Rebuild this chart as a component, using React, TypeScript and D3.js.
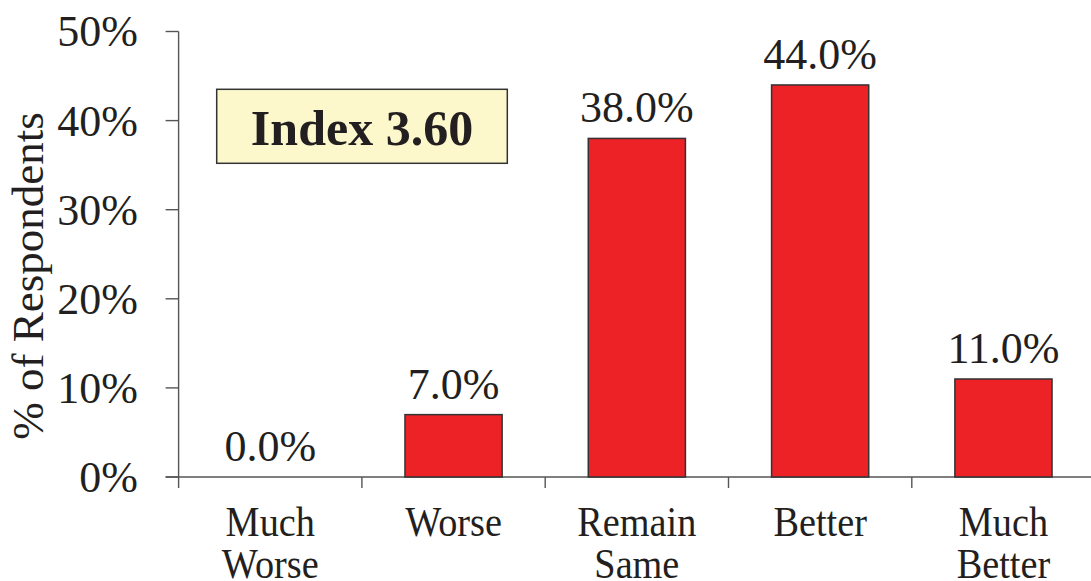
import React from "react";
import * as d3 from "d3";

const categories: string[][] = [
  ["Much", "Worse"],
  ["Worse"],
  ["Remain", "Same"],
  ["Better"],
  ["Much", "Better"],
];
const values: number[] = [0, 7, 38, 44, 11];
const valueLabels: string[] = ["0.0%", "7.0%", "38.0%", "44.0%", "11.0%"];
const yTicks: number[] = [0, 10, 20, 30, 40, 50];
const yTitle = "% of Respondents";
const indexText = "Index 3.60";

const W = 1091;
const H = 581;
const FONT = "'Liberation Serif', 'Times New Roman', Times, serif";

export default function App() {
  const x0 = 178.6;
  const step = 183.3;
  const ids = categories.map((_, i) => String(i));
  const xBand = d3
    .scaleBand<string>()
    .domain(ids)
    .range([x0, x0 + step * ids.length])
    .paddingInner(0.47)
    .paddingOuter(0.235);
  const xCat = d3.scaleBand<string>().domain(ids).range([x0, x0 + step * ids.length]).padding(0);
  const y = d3.scaleLinear().domain([0, 50]).range([477, 31.5]);

  const tickColor = "#555";
  const textColor = "#231f20";

  return (
    <svg
      width={W}
      height={H}
      style={{ position: "absolute", left: 0, top: 0, background: "#fff" }}
      fontFamily={FONT}
    >
      <rect x={0} y={0} width={W} height={H} fill="#fff" />
      {/* y axis */}
      <line x1={x0} x2={x0} y1={y(50)} y2={y(0) + 11} stroke={tickColor} strokeWidth={1.4} />
      {yTicks.map((t) => (
        <g key={t}>
          <line x1={x0 - 13} x2={x0} y1={y(t)} y2={y(t)} stroke={tickColor} strokeWidth={1.4} />
          <text
            x={138}
            y={y(t)}
            dy="0.34em"
            textAnchor="end"
            fontSize={44}
            fill={textColor}
          >
            {t}%
          </text>
        </g>
      ))}
      {/* x axis */}
      <line x1={x0 - 13} x2={W} y1={y(0)} y2={y(0)} stroke={tickColor} strokeWidth={1.4} />
      {ids.map((id) => (
        <line
          key={"xt" + id}
          x1={(xCat(id) as number) + xCat.bandwidth()}
          x2={(xCat(id) as number) + xCat.bandwidth()}
          y1={y(0)}
          y2={y(0) + 11}
          stroke={tickColor}
          strokeWidth={1.4}
        />
      ))}
      {/* bars */}
      {values.map((v, i) => (
        <g key={"b" + i}>
          {v > 0 && (
            <rect
              x={xBand(ids[i])}
              y={y(v)}
              width={xBand.bandwidth()}
              height={y(0) - y(v)}
              fill="#ec2227"
              stroke="#333"
              strokeWidth={1.5}
            />
          )}
          <text
            x={(xBand(ids[i]) as number) + xBand.bandwidth() / 2}
            y={y(v) - 16}
            textAnchor="middle"
            fontSize={44}
            fill={textColor}
          >
            {valueLabels[i]}
          </text>
        </g>
      ))}
      {/* category labels */}
      {categories.map((lines, i) => {
        const cx = (xCat(ids[i]) as number) + xCat.bandwidth() / 2;
        return (
          <g key={"c" + i} transform={`translate(${cx},0) scale(0.89,1)`}>
            {lines.map((ln, j) => (
              <text key={j} x={0} y={536 + j * 42} textAnchor="middle" fontSize={43} fill={textColor}>
                {ln}
              </text>
            ))}
          </g>
        );
      })}
      {/* y title */}
      <text
        transform={`translate(43,276) rotate(-90)`}
        textAnchor="middle"
        fontSize={45}
        fill={textColor}
      >
        {yTitle}
      </text>
      {/* index box */}
      <rect x={216.7} y={89.3} width={290.6} height={74} fill="#fcf8cc" stroke="#333" strokeWidth={1.5} />
      <text x={362} y={145} textAnchor="middle" fontSize={50} fontWeight="bold" fill={textColor}>
        {indexText}
      </text>
    </svg>
  );
}
